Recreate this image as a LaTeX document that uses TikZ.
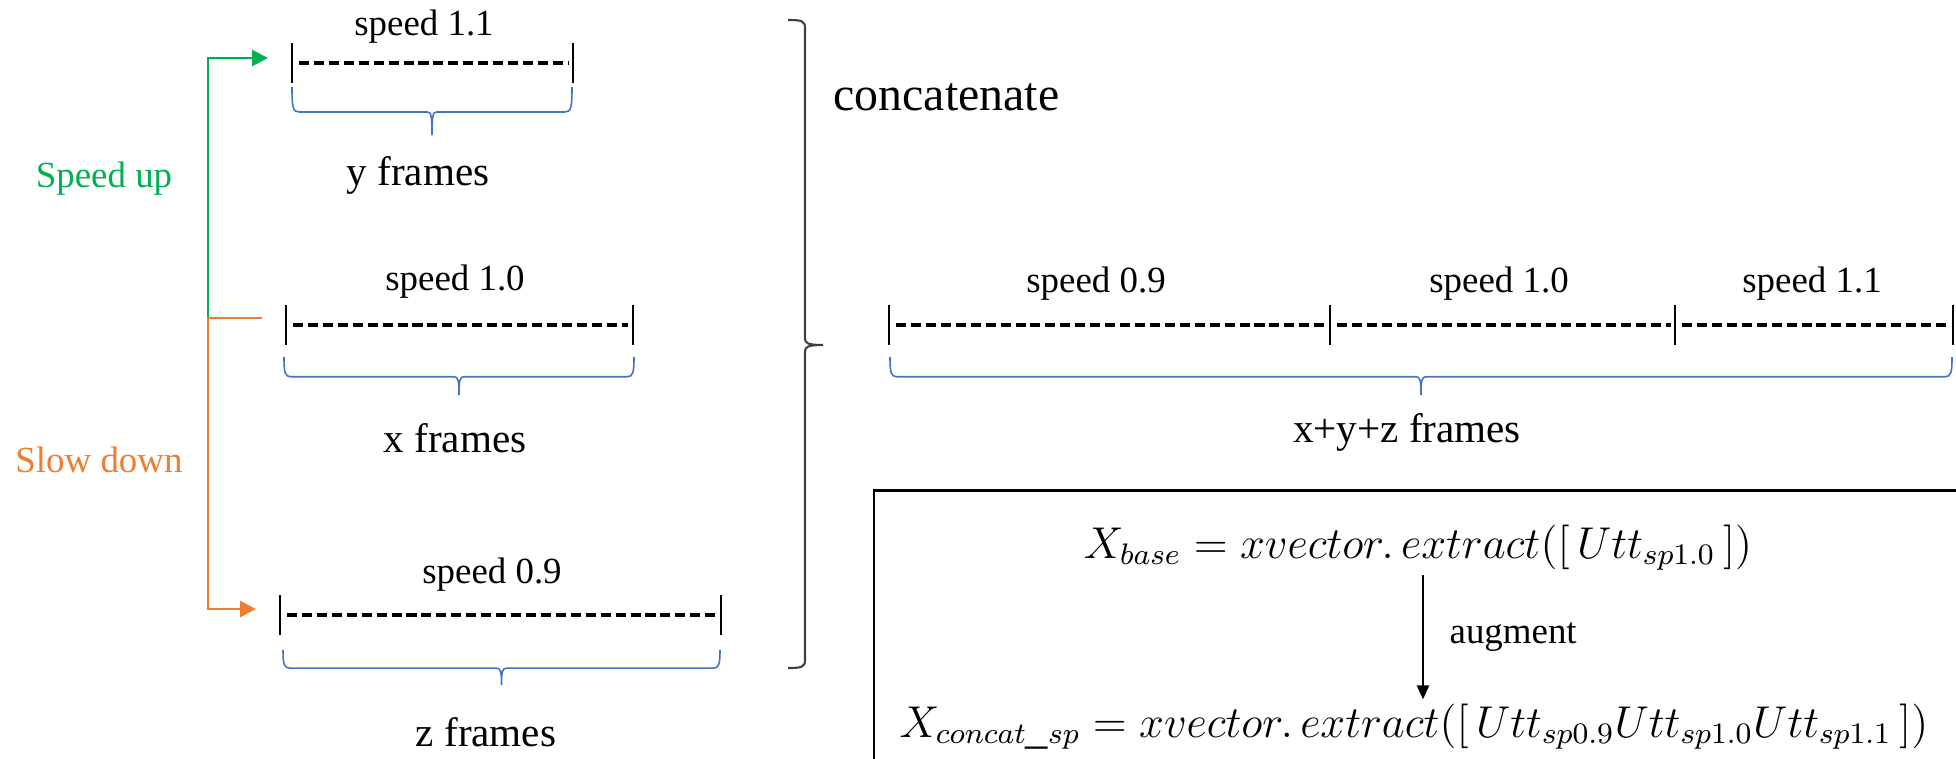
\documentclass[tikz,border=0pt]{standalone}
\usepackage{fontspec}
\setmainfont{Liberation Serif}
\usetikzlibrary{arrows.meta,positioning}
\definecolor{upgreen}{HTML}{00B050}
\definecolor{downorange}{HTML}{ED7D31}
\definecolor{braceblue}{HTML}{4472C4}

% frame bar: left x, right x, y
\newcommand{\framebar}[3]{%
  \draw[tickline] (#1,#3-0.2) -- (#1,#3+0.2);
  \draw[tickline] (#2,#3-0.2) -- (#2,#3+0.2);
  \draw[dashline] (#1+0.07,#3) -- (#2-0.05,#3);}

% brace under a bar: left x, right x, top y, depth
\newcommand{\framebrace}[4]{%
  \pgfmathsetmacro\brmid{(#1+#2)/2}%
  \pgfmathsetmacro\brhalf{#3-0.52*#4}%
  \pgfmathsetmacro\brtip{#3-#4}%
  \draw[bracepen] (#1,#3) .. controls (#1,\brhalf+0.04) and (#1+0.01,\brhalf) .. (#1+0.07,\brhalf)
    -- (\brmid-0.05,\brhalf) .. controls (\brmid-0.01,\brhalf) and (\brmid,\brhalf-0.03) .. (\brmid,\brtip)
    .. controls (\brmid,\brhalf-0.03) and (\brmid+0.01,\brhalf) .. (\brmid+0.05,\brhalf)
    -- (#2-0.07,\brhalf) .. controls (#2-0.01,\brhalf) and (#2,\brhalf+0.04) .. (#2,#3);}

\begin{document}
\begin{tikzpicture}[
  font=\fontsize{10.5}{12}\selectfont,
  >=Latex,
  tickline/.style={line width=0.65pt},
  dashline/.style={line width=1pt,dash pattern=on 2.85pt off 1.4pt},
  bracepen/.style={draw=braceblue,line width=0.45pt},
  spdlabel/.style={anchor=base,inner sep=0pt},
  frlabel/.style={anchor=base,inner sep=0pt,font=\fontsize{11.7}{14}\selectfont},
  upflow/.style={draw=upgreen,line width=0.8pt,-{Triangle[length=4.5pt,width=4.5pt]}},
  downflow/.style={draw=downorange,line width=0.8pt,-{Triangle[length=4.5pt,width=4.5pt]}},
  bigbracket/.style={draw=black!75,line width=0.6pt},
  eqn/.style={anchor=base,inner sep=1pt,font=\fontsize{12}{15}\selectfont},
  eqbox/.style={draw,line width=0.85pt},
  flow/.style={-{Triangle[length=4pt,width=3.5pt]},line width=0.5pt}
]
  \useasboundingbox (0,0) rectangle (19.56,7.58);
  \clip (0,0) rectangle (19.56,7.58);

  % Left: three speeds
  \framebar{2.92}{5.73}{6.95}
  \framebrace{2.92}{5.72}{6.71}{0.48}
  \node[spdlabel] (spd11) at (4.24,7.23) {speed 1.1};
  \node[frlabel] (yfr) at (4.18,5.73) {y frames};

  \framebar{2.86}{6.33}{4.33}
  \framebrace{2.84}{6.34}{4.01}{0.38}
  \node[spdlabel] (spd10) at (4.55,4.68) {speed 1.0};
  \node[frlabel] (xfr) at (4.55,3.06) {x frames};

  \framebar{2.80}{7.21}{1.43}
  \framebrace{2.83}{7.20}{1.08}{0.35}
  \node[spdlabel] (spd09) at (4.92,1.75) {speed 0.9};
  \node[frlabel] (zfr) at (4.86,0.12) {z frames};

  % speed up / slow down branches
  \coordinate (fork) at (2.08,4.40);
  \coordinate (forkstub) at (2.62,4.40);
  \coordinate (upend) at (2.68,7.00);
  \coordinate (downend) at (2.56,1.49);
  \draw[upflow] (fork) |- (upend);
  \draw[downflow] (forkstub) -- (fork) |- (downend);
  \node[spdlabel,text=upgreen] (upl) at (1.04,5.71) {Speed up};
  \node[spdlabel,text=downorange] (downl) at (0.99,2.86) {Slow down};

  % concatenate bracket
  \draw[bigbracket] (7.88,7.38) .. controls (8.02,7.38) and (8.05,7.37) .. (8.05,7.30)
    -- (8.05,4.20) .. controls (8.05,4.15) and (8.07,4.13) .. (8.23,4.13)
    .. controls (8.07,4.13) and (8.05,4.11) .. (8.05,4.06)
    -- (8.05,0.98) .. controls (8.05,0.91) and (8.02,0.90) .. (7.88,0.90);
  \node[anchor=base west,inner sep=0pt,font=\fontsize{13.6}{16}\selectfont] (concat)
    at (8.33,6.48) {concatenate};

  % Right: concatenated utterance
  \foreach \tx in {8.89,13.30,16.75,19.53}
    \draw[tickline] (\tx,4.13) -- (\tx,4.53);
  \draw[dashline] (8.96,4.33) -- (13.26,4.33);
  \draw[dashline] (13.37,4.33) -- (16.71,4.33);
  \draw[dashline] (16.82,4.33) -- (19.50,4.33);
  \framebrace{8.90}{19.52}{4.01}{0.38}
  \node[spdlabel] (cat09) at (10.96,4.66) {speed 0.9};
  \node[spdlabel] (cat10) at (14.99,4.66) {speed 1.0};
  \node[spdlabel] (cat11) at (18.12,4.66) {speed 1.1};
  \node[frlabel] (xyzfr) at (14.07,3.16) {x+y+z frames};

  % x-vector box
  \draw[eqbox] (8.74,2.68) rectangle (19.80,-0.30);
  \node[eqn] (fbase) at (14.18,2.00)
    {\scalebox{1.057}{$X_{base} = xvector.\,extract([\,Utt_{sp1.0}\,])$}};
  \node[eqn] (fconcat) at (14.14,0.21)
    {\scalebox{1.057}{$X_{concat\_sp} = xvector.\,extract([\,Utt_{sp0.9}Utt_{sp1.0}Utt_{sp1.1}\,])$}};
  \coordinate (augx) at (14.23,0);
  \draw[flow] (fbase.south -| augx) -- node[right=4pt] (aug) {augment} (fconcat.north -| augx);
\end{tikzpicture}
\end{document}
